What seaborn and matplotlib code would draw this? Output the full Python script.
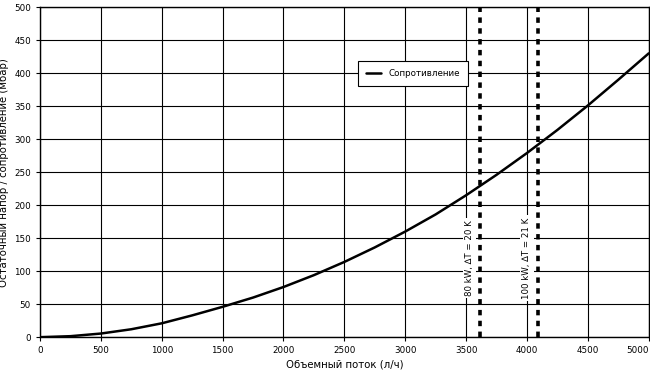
import pandas as pd
import matplotlib.pyplot as plt
import seaborn as sns

flow = [0, 250, 500, 750, 1000, 1250, 1500, 1750, 2000, 2250, 2500, 2750,
        3000, 3250, 3500, 3750, 4000, 4250, 4500, 4750, 5000]
resistance = [0, 1.5, 5.5, 12, 21, 33, 46, 60, 76, 94, 114, 136,
              160, 186, 215, 246, 279, 314, 351, 390, 430]
marker_flow = [3615, 4090]
marker_labels = ["80 kW, \u2206T = 20 K", "100 kW, \u2206T = 21 K"]
label_x = [3525, 4000]

df = pd.DataFrame({"flow": flow, "resistance": resistance})

sns.set_style("white")
plt.rcParams["font.family"] = ["DejaVu Sans"]
plt.rcParams["text.color"] = "black"
plt.rcParams["axes.labelcolor"] = "black"
plt.rcParams["xtick.color"] = "black"
plt.rcParams["ytick.color"] = "black"

fig = plt.figure(figsize=(6.5, 3.78), dpi=100)
ax = fig.add_axes([0.0615, 0.108, 0.9365, 0.873])

sns.lineplot(data=df, x="flow", y="resistance", ax=ax, color="black",
             linewidth=1.8, label="Сопротивление", zorder=5)

for xv in marker_flow:
    ax.axvline(xv, color="black", linewidth=2.6, linestyle=(0, (1.5, 1.5)), zorder=4)
for xv, txt in zip(label_x, marker_labels):
    ax.text(xv, 120, txt, rotation=90, ha="center", va="center", fontsize=6.2,
            color="black",
            bbox=dict(facecolor="white", edgecolor="none", pad=1.5), zorder=6)

ax.set_xlim(0, 5000)
ax.set_ylim(0, 500)
ax.set_xticks(range(0, 5001, 500))
ax.set_yticks(range(0, 501, 50))
ax.grid(True, color="black", linewidth=0.8)
ax.set_axisbelow(True)
for s in ax.spines.values():
    s.set_color("black")
    s.set_linewidth(1)
ax.tick_params(labelsize=6.3, length=3, color="black", labelcolor="black",
               direction="out", left=True, bottom=True)
ax.get_xticklabels()[-1].set_horizontalalignment("right")
ax.set_xlabel("Объемный поток (л/ч)", fontsize=7.3, labelpad=3)
ax.set_ylabel("Остаточный напор / сопротивление (мбар)", fontsize=7.3, labelpad=4)

leg = ax.legend(loc="upper left", bbox_to_anchor=(0.515, 0.85), fontsize=6.3,
                frameon=True, fancybox=False, handlelength=1.8, borderpad=0.9)
leg.get_frame().set_edgecolor("black")
leg.get_frame().set_linewidth(0.8)
leg.get_frame().set_alpha(1)
leg.set_zorder(7)
for t in leg.get_texts():
    t.set_color("black")

fig.savefig("out.png", dpi=100)
